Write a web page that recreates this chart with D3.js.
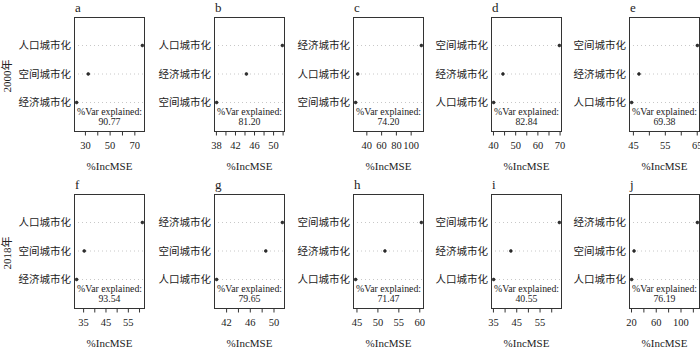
<!DOCTYPE html>
<html>
<head>
<meta charset="utf-8">
<script src="https://cdn.jsdelivr.net/npm/d3@7"></script>
<style>
  body { margin: 0; background: #fff; }
  svg { display: block; }
</style>
</head>
<body>
<div id="chart"></div>
<script>
/* varImpPlot style dot charts, 2 years x 5 panels */
const panelIds = ["a", "b", "c", "d", "e", "f", "g", "h", "i", "j"];
const yearLabels = ["2000年", "2018年"];

const rowLabels = [
  ["人口城市化", "空间城市化", "经济城市化"],
  ["人口城市化", "经济城市化", "空间城市化"],
  ["经济城市化", "人口城市化", "空间城市化"],
  ["空间城市化", "经济城市化", "人口城市化"],
  ["空间城市化", "经济城市化", "人口城市化"],
  ["人口城市化", "空间城市化", "经济城市化"],
  ["经济城市化", "空间城市化", "人口城市化"],
  ["空间城市化", "经济城市化", "人口城市化"],
  ["空间城市化", "经济城市化", "人口城市化"],
  ["经济城市化", "空间城市化", "人口城市化"]
];

const incMSE = [
  [76.5, 32.7, 23.3],
  [51.95, 44.4, 38.15],
  [114.5, 28.3, 25.5],
  [69.9, 44.5, 40.3],
  [65.2, 46.9, 44.6],
  [61.5, 35.5, 32.1],
  [51.5, 48.7, 40.4],
  [60.5, 51.8, 44.8],
  [63.5, 42.7, 35.3],
  [127.3, 24.9, 21.0]
];

const varExplained = ["90.77", "81.20", "74.20", "82.84", "69.38",
                      "93.54", "79.65", "71.47", "40.55", "76.19"];

const tickValues = [
  [30, 40, 50, 60, 70],
  [38, 40, 42, 44, 46, 48, 50, 52],
  [40, 60, 80, 100],
  [40, 45, 50, 55, 60, 65, 70],
  [45, 50, 55, 60, 65],
  [35, 40, 45, 50, 55, 60],
  [42, 44, 46, 48, 50],
  [45, 50, 55, 60],
  [35, 40, 45, 50, 55, 60],
  [20, 40, 60, 80, 100, 120]
];

const tickLabels = [
  [30, 50, 70],
  [38, 42, 46, 50],
  [40, 60, 80, 100],
  [40, 50, 60, 70],
  [45, 55, 65],
  [35, 45, 55],
  [42, 46, 50],
  [45, 50, 55, 60],
  [35, 45, 55],
  [20, 60, 100]
];

const width = 700, height = 351;
const lefts = [74, 214, 353, 491, 629],
      boxW = 71,
      tops = [17, 194],
      boxH = 114;
const serif = "'Liberation Serif', 'DejaVu Serif', serif",
      cjk = "'Noto Sans CJK SC', sans-serif";

let svg = d3.select("#chart")
  .append("svg")
  .attr("width", width)
  .attr("height", height);

// year labels on the left
yearLabels.forEach((lab, r) => {
  svg.append("text")
    .attr("transform", `translate(11,${tops[r] + boxH / 2 + 2}) rotate(-90)`)
    .attr("text-anchor", "middle")
    .attr("font-family", serif + ", " + cjk)
    .attr("font-size", 11)
    .attr("fill", "#222")
    .text(lab);
});

panelIds.forEach((id, k) => {
  const row = Math.floor(k / 5), col = k % 5;
  const x0 = lefts[col], y0 = tops[row];
  const vals = incMSE[k];

  // R dotchart: range extended by 4%
  const [lo, hi] = d3.extent(vals);
  const pad = (hi - lo) * 0.04;
  let x = d3.scaleLinear()
    .domain([lo - pad, hi + pad])
    .range([x0, x0 + boxW]);

  let y = d3.scalePoint()
    .domain(rowLabels[k])
    .range([y0 + boxH / 4, y0 + boxH * 3 / 4]);

  let g = svg.append("g");

  // dotted guide lines
  g.selectAll(".guide")
    .data(rowLabels[k])
    .join("line")
    .attr("x1", x0)
    .attr("x2", x0 + boxW)
    .attr("y1", d => y(d))
    .attr("y2", d => y(d))
    .attr("stroke", "#c8c8c8")
    .attr("stroke-width", 1)
    .attr("stroke-dasharray", "1,3");

  // frame
  g.append("rect")
    .attr("x", x0 + 0.5)
    .attr("y", y0 + 0.5)
    .attr("width", boxW - 1)
    .attr("height", boxH)
    .attr("fill", "none")
    .attr("stroke", "#333")
    .attr("stroke-width", 1);

  // dots
  g.selectAll(".dot")
    .data(vals)
    .join("circle")
    .attr("cx", d => x(d))
    .attr("cy", (d, i) => y(rowLabels[k][i]))
    .attr("r", 1.4)
    .attr("fill", "#333")
    .attr("stroke", "#111")
    .attr("stroke-width", 0.6);

  // category labels
  g.selectAll(".lab")
    .data(rowLabels[k])
    .join("text")
    .attr("x", x0 - 3)
    .attr("y", d => y(d))
    .attr("dy", "0.36em")
    .attr("text-anchor", "end")
    .attr("font-family", cjk)
    .attr("font-size", 10.5)
    .attr("fill", "#222")
    .text(d => d);

  // x axis
  let axis = g.append("g")
    .attr("transform", `translate(0,${y0 + boxH + 0.5})`)
    .call(d3.axisBottom(x)
      .tickValues(tickValues[k])
      .tickSize(4)
      .tickPadding(6)
      .tickFormat(d => tickLabels[k].includes(d) ? d : ""));
  axis.attr("font-family", serif).attr("font-size", 10.5);
  axis.select(".domain").remove();
  axis.selectAll("line").attr("stroke", "#333");
  axis.selectAll("text").attr("fill", "#222");

  // axis title
  g.append("text")
    .attr("x", x0 + boxW / 2)
    .attr("y", y0 + boxH + 39)
    .attr("text-anchor", "middle")
    .attr("font-family", serif)
    .attr("font-size", 11)
    .attr("fill", "#222")
    .text("%IncMSE");

  // panel letter
  g.append("text")
    .attr("x", x0 + 1)
    .attr("y", y0 - 5)
    .attr("font-family", serif)
    .attr("font-size", 13)
    .attr("fill", "#222")
    .text(id);

  // variance explained
  const vy = y0 + boxH * 0.835 + 3;
  g.append("text")
    .attr("x", x0 + boxW / 2)
    .attr("y", vy)
    .attr("text-anchor", "middle")
    .attr("font-family", serif)
    .attr("font-size", 9.8)
    .attr("fill", "#222")
    .text("%Var explained:");
  g.append("text")
    .attr("x", x0 + boxW / 2)
    .attr("y", vy + 10)
    .attr("text-anchor", "middle")
    .attr("font-family", serif)
    .attr("font-size", 9.8)
    .attr("fill", "#222")
    .text(varExplained[k]);
});
</script>
</body>
</html>
